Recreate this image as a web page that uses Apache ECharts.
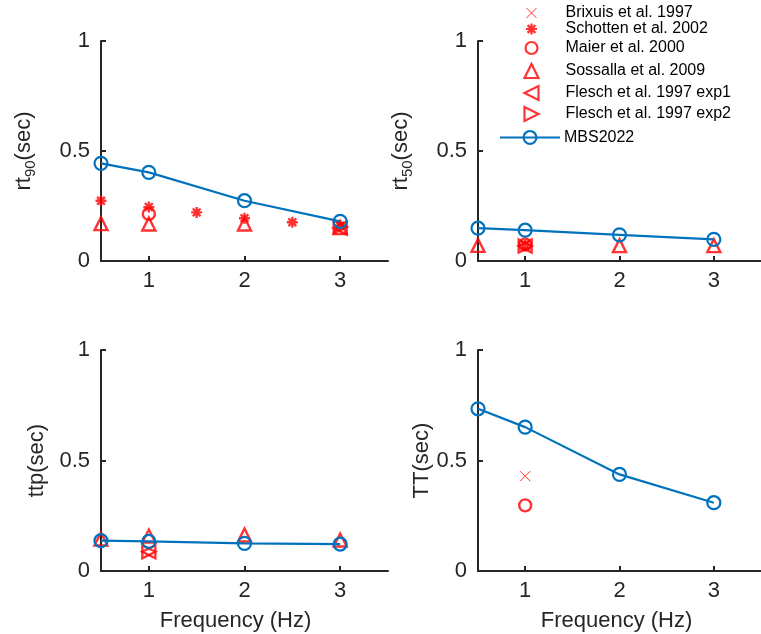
<!DOCTYPE html>
<html><head><meta charset="utf-8">
<script src="https://cdn.jsdelivr.net/npm/echarts@6/dist/echarts.min.js"></script>
<style>html,body{margin:0;padding:0;background:#fff}#c{width:761px;height:634px}</style>
</head><body><div id="c"></div>
<script>
// ---------- data ----------
const freqTicks = [1, 2, 3];
const sourceNames = ['Brixuis et al. 1997', 'Schotten et al. 2002', 'Maier et al. 2000',
  'Sossalla et al. 2009', 'Flesch et al. 1997 exp1', 'Flesch et al. 1997 exp2', 'MBS2022'];

// rt90 (top-left)  [frequency Hz, seconds]
const rt90_brixuis = [];
const rt90_schotten = [[0.5, 0.274], [1, 0.245], [1.5, 0.221], [2, 0.194], [2.5, 0.176], [3, 0.16]];
const rt90_maier = [[1, 0.214]];
const rt90_sossalla = [[0.5, 0.17], [1, 0.168], [2, 0.168], [3, 0.152]];
const rt90_flesch1 = [[3, 0.15]];
const rt90_flesch2 = [[3, 0.155]];
const rt90_mbs = [[0.5, 0.444], [1, 0.403], [2, 0.274], [3, 0.18]];

// rt50 (top-right)
const rt50_brixuis = [];
const rt50_schotten = [[1, 0.072]];
const rt50_maier = [[1, 0.075]];
const rt50_sossalla = [[0.5, 0.071], [2, 0.07], [3, 0.07]];
const rt50_flesch1 = [[1, 0.068]];
const rt50_flesch2 = [[1, 0.068]];
const rt50_mbs = [[0.5, 0.149], [1, 0.14], [2, 0.119], [3, 0.098]];

// ttp (bottom-left)
const ttp_brixuis = [];
const ttp_schotten = [];
const ttp_maier = [];
const ttp_sossalla = [[0.5, 0.145], [1, 0.158], [2, 0.163], [3, 0.14]];
const ttp_flesch1 = [[1, 0.087]];
const ttp_flesch2 = [[1, 0.087]];
const ttp_mbs = [[0.5, 0.137], [1, 0.134], [2, 0.125], [3, 0.122]];

// TT (bottom-right)
const TT_brixuis = [[1, 0.429]];
const TT_schotten = [];
const TT_maier = [[1, 0.297]];
const TT_sossalla = [];
const TT_flesch1 = [];
const TT_flesch2 = [];
const TT_mbs = [[0.5, 0.734], [1, 0.651], [2, 0.437], [3, 0.309]];

const panels = [
  [rt90_brixuis, rt90_schotten, rt90_maier, rt90_sossalla, rt90_flesch1, rt90_flesch2, rt90_mbs],
  [rt50_brixuis, rt50_schotten, rt50_maier, rt50_sossalla, rt50_flesch1, rt50_flesch2, rt50_mbs],
  [ttp_brixuis, ttp_schotten, ttp_maier, ttp_sossalla, ttp_flesch1, ttp_flesch2, ttp_mbs],
  [TT_brixuis, TT_schotten, TT_maier, TT_sossalla, TT_flesch1, TT_flesch2, TT_mbs]
];

// ---------- styles ----------
const FONT = 'Liberation Sans, Arial, Helvetica, sans-serif';
const AX = '#262626';
const RED = '#FF0000';
const BLUE = '#0072BD';
const ASTER = 'path://M0,-10L0,10M-10,0L10,0M-7.07,-7.07L7.07,7.07M-7.07,7.07L7.07,-7.07';
const CROSS = 'path://M-10,-10L10,10M-10,10L10,-10';
const TRI_LEFT = 'path://M-10,0L10,-10L10,10Z';
const TRI_RIGHT = 'path://M10,0L-10,-10L-10,10Z';
const markerStyles = [
  {symbol: CROSS, size: 10, bw: 1},
  {symbol: ASTER, size: 11, bw: 2.4},
  {symbol: 'circle', size: 12, bw: 2.4},
  {symbol: 'triangle', size: 13, bw: 2.4},
  {symbol: TRI_LEFT, size: 13, bw: 2.4},
  {symbol: TRI_RIGHT, size: 13, bw: 2.4}
];

const grids = [
  {left: 101, top: 41, width: 287, height: 220},
  {left: 478, top: 41, width: 287, height: 220},
  {left: 101, top: 350, width: 287, height: 221},
  {left: 478, top: 350, width: 287, height: 221}
];

const richSub = {
  m: {fontSize: 22, lineHeight: 22, verticalAlign: 'top', color: AX, fontFamily: FONT},
  s: {fontSize: 15, lineHeight: 15, verticalAlign: 'top', padding: [10, 0, 0, 0], color: AX, fontFamily: FONT}
};
const yNames = ['{m|rt}{s|90}{m|(sec)}', '{m|rt}{s|50}{m|(sec)}', '{m|ttp(sec)}', '{m|TT(sec)}'];
const yGaps = [66, 66, 53, 45];

const xAxes = grids.map((g, i) => ({
  gridIndex: i, type: 'value', min: 0.5, max: 3.5,
  name: i >= 2 ? 'Frequency (Hz)' : '',
  nameLocation: 'middle', nameGap: 39,
  nameTextStyle: {fontSize: 22, color: AX, fontFamily: FONT, padding: i === 2 ? [0, 18, 0, 0] : [0, 6, 0, 0]},
  axisLine: {show: true, onZero: false, lineStyle: {color: AX, width: 2}},
  axisTick: {show: true, inside: true, length: 5, customValues: freqTicks, lineStyle: {color: AX, width: 2}},
  axisLabel: {customValues: freqTicks, fontSize: 22, color: AX, fontFamily: FONT, margin: 9},
  splitLine: {show: false}
}));

const yAxes = grids.map((g, i) => ({
  gridIndex: i, type: 'value', min: 0, max: 1, interval: 0.5,
  name: yNames[i], nameLocation: 'middle', nameRotate: 90, nameGap: yGaps[i],
  nameTextStyle: {fontSize: 22, color: AX, fontFamily: FONT, rich: richSub},
  axisLine: {show: true, lineStyle: {color: AX, width: 2}},
  axisTick: {show: true, inside: true, length: 5, lineStyle: {color: AX, width: 2}},
  axisLabel: {fontSize: 22, color: AX, fontFamily: FONT, margin: 11},
  splitLine: {show: false}
}));

const series = [];
panels.forEach((pd, p) => {
  pd.forEach((data, k) => {
    if (k < 6) {
      const m = markerStyles[k];
      series.push({
        type: 'scatter', name: sourceNames[k], xAxisIndex: p, yAxisIndex: p,
        data: data, symbol: m.symbol, symbolSize: m.size,
        itemStyle: {color: 'none', borderColor: RED, borderWidth: m.bw},
        z: 2, clip: false, silent: true
      });
    } else {
      series.push({
        type: 'line', name: sourceNames[k], xAxisIndex: p, yAxisIndex: p,
        data: data, symbol: 'circle', symbolSize: 13, showSymbol: true,
        lineStyle: {color: BLUE, width: 2.2},
        itemStyle: {color: 'none', borderColor: BLUE, borderWidth: 2.2},
        z: 5, clip: false, silent: true, animation: false
      });
    }
  });
});

// legend layout: one legend block per entry (reference spacing is uneven)
const legendCenters = [13, 29, 48, 70, 92, 113, 137];
const legendIconH = [10, 11, 12, 14, 14, 14, 16];
const legendMarkerX = 529;
const legendTextX = 563;
const legends = sourceNames.map((nm, k) => {
  const h = legendIconH[k];
  const boxH = Math.max(h, 17);
  const isLine = k === 6;
  const w = isLine ? 60 : h;
  const left = isLine ? 499 : legendMarkerX - h / 2;
  const padL = legendTextX - (left + w + 5);
  return {
    data: [nm], left: left, top: legendCenters[k] - boxH / 2, orient: 'vertical',
    padding: 0, itemWidth: w, itemHeight: h, selectedMode: false,
    itemStyle: {borderWidth: k === 0 ? 1 : 2.2},
    textStyle: {fontSize: 16, lineHeight: 17, color: '#000', fontFamily: FONT, padding: [0, 0, 0, padL]}
  };
});

const chart = echarts.init(document.getElementById('c'), null, {renderer: 'canvas'});
chart.setOption({
  animation: false,
  backgroundColor: '#fff',
  grid: grids,
  xAxis: xAxes,
  yAxis: yAxes,
  legend: legends,
  series: series
});
</script>
</body></html>
